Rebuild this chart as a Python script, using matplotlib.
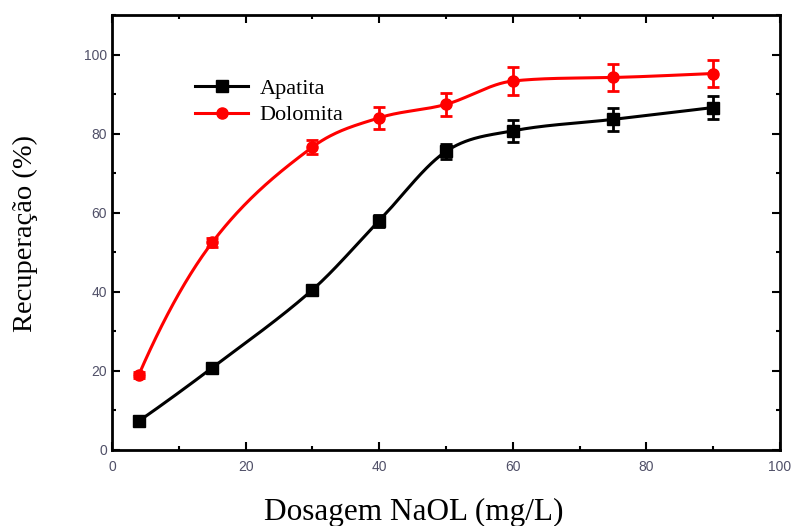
import numpy as np
import matplotlib
matplotlib.use("Agg")
import matplotlib.pyplot as plt
from matplotlib.ticker import MultipleLocator

dose = [4, 15, 30, 40, 50, 60, 75, 90]
apatita = [7.3, 20.8, 40.5, 58.0, 75.5, 80.7, 83.6, 86.6]
apatita_err = [0.8, 0.8, 1.0, 1.5, 1.8, 2.8, 3.0, 3.0]
dolomita = [19.0, 52.5, 76.6, 84.0, 87.4, 93.3, 94.2, 95.2]
dolomita_err = [0.8, 1.2, 1.8, 2.8, 3.0, 3.5, 3.5, 3.5]
series_names = ["Apatita", "Dolomita"]
series_colors = ["black", "red"]
xticks = [0, 20, 40, 60, 80, 100]
yticks = [0, 20, 40, 60, 80, 100]


def smooth_curve(x, y, npts=400):
    """Monotone cubic Hermite curve with finite-difference tangents (smooth line through points)."""
    x = np.asarray(x, float); y = np.asarray(y, float)
    n = len(x); h = np.diff(x); d = np.diff(y) / h
    m = np.zeros(n)
    for k in range(1, n - 1):
        m[k] = (y[k + 1] - y[k - 1]) / (x[k + 1] - x[k - 1])
    m[0] = 2 * d[0] - m[1] if (2 * d[0] - m[1]) * d[0] > 0 else d[0]
    m[-1] = 2 * d[-1] - m[-2] if (2 * d[-1] - m[-2]) * d[-1] > 0 else d[-1]
    for k in range(n - 1):
        if d[k] == 0:
            m[k] = m[k + 1] = 0
            continue
        a = m[k] / d[k]; b = m[k + 1] / d[k]
        s = a * a + b * b
        if s > 9:
            t = 3 / np.sqrt(s)
            m[k] = t * a * d[k]; m[k + 1] = t * b * d[k]
    xs = np.linspace(x[0], x[-1], npts)
    ys = np.empty_like(xs)
    for j, xv in enumerate(xs):
        k = int(np.clip(np.searchsorted(x, xv) - 1, 0, n - 2))
        t = (xv - x[k]) / h[k]
        h00 = 2 * t**3 - 3 * t**2 + 1; h10 = t**3 - 2 * t**2 + t
        h01 = -2 * t**3 + 3 * t**2; h11 = t**3 - t**2
        ys[j] = h00 * y[k] + h10 * h[k] * m[k] + h01 * y[k + 1] + h11 * h[k] * m[k + 1]
    return xs, ys


fig = plt.figure(figsize=(7.95, 5.26), dpi=100)
ax = fig.add_axes([0.141, 0.1445, 0.840, 0.827])

for vals, errs, name, col, mk in [(apatita, apatita_err, series_names[0], series_colors[0], "s"),
                                  (dolomita, dolomita_err, series_names[1], series_colors[1], "o")]:
    cx, cy = smooth_curve(dose, vals)
    ax.plot(cx, cy, color=col, lw=2.2, zorder=2)
    ax.errorbar(dose, vals, yerr=errs, fmt=mk, color=col, ms=8, capsize=4,
                elinewidth=2, capthick=2, zorder=3)
    ax.plot([], [], color=col, marker=mk, ms=8, lw=2.2, label=name)

ax.set_xlim(0, 100)
ax.set_ylim(0, 110)
ax.set_xticks(xticks)
ax.set_yticks(yticks)
ax.xaxis.set_minor_locator(MultipleLocator(10))
ax.yaxis.set_minor_locator(MultipleLocator(10))
ax.tick_params(which="both", direction="in", top=True, right=True, width=1.5,
               labelsize=10, labelcolor="#505068")
ax.tick_params(which="major", length=6)
ax.tick_params(which="minor", length=3)
ax.tick_params(axis="x", pad=7)
for s in ax.spines.values():
    s.set_linewidth(2)
for lab in ax.get_xticklabels() + ax.get_yticklabels():
    lab.set_family("Liberation Sans")

fig.text(414 / 795, 1 - 512 / 526, "Dosagem NaOL (mg/L)", family="Liberation Serif",
         fontsize=22.5, ha="center", va="center")
fig.text(25 / 795, 1 - 233 / 526, "Recuperação (%)", family="Liberation Serif",
         fontsize=20.5, ha="center", va="center", rotation=90)

ax.legend(loc="center left", bbox_to_anchor=(195 / 795, 1 - 102 / 526),
          bbox_transform=fig.transFigure, frameon=False, borderpad=0, borderaxespad=0,
          prop={"family": "Liberation Serif", "size": 16}, handlelength=2.4,
          labelspacing=0.25, handletextpad=0.5)

fig.savefig("out.png", dpi=100)
